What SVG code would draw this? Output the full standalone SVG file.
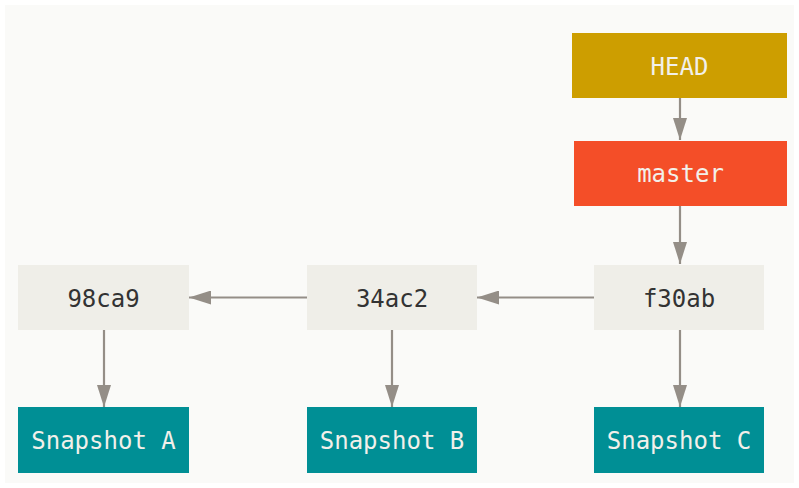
<svg xmlns="http://www.w3.org/2000/svg" width="799" height="488" viewBox="0 0 799 488">
<style>
.lbl{font-family:"DejaVu Sans Mono","Liberation Mono",monospace;font-size:24px;text-anchor:middle;dominant-baseline:central}
.light{fill:#f2f0ea}
.dark{fill:#333333}
.commit{fill:#efeee8}
.snap{fill:#008f95}
.conn{stroke:#948e87;stroke-width:2.2;fill:none;marker-end:url(#ah)}
</style>
<defs>
<marker id="ah" markerWidth="22" markerHeight="14" refX="22" refY="7" orient="auto" markerUnits="userSpaceOnUse">
<path d="M0,0 L22,7 L0,14 Z" fill="#948e87"/>
</marker>
</defs>
<rect x="0" y="0" width="799" height="488" fill="#ffffff"/>
<rect x="5" y="5" width="789" height="478" fill="#fafaf8"/>
<g id="connectors">
<line class="conn" x1="680" y1="98" x2="680" y2="140"/>
<line class="conn" x1="680" y1="206" x2="680" y2="264"/>
<line class="conn" x1="680" y1="330" x2="680" y2="407"/>
<line class="conn" x1="594" y1="297.5" x2="477" y2="297.5"/>
<line class="conn" x1="307" y1="297.5" x2="189" y2="297.5"/>
<line class="conn" x1="392" y1="330" x2="392" y2="407"/>
<line class="conn" x1="104" y1="330" x2="104" y2="407"/>
</g>
<g id="head">
<rect x="572" y="33" width="215" height="65" fill="#cd9e00"/>
<text class="lbl light" x="679.5" y="67">HEAD</text>
</g>
<g id="master">
<rect x="574" y="141" width="213" height="65" fill="#f44e28"/>
<text class="lbl light" x="680.5" y="174">master</text>
</g>
<g id="c98ca9">
<rect class="commit" x="18" y="265" width="171" height="65"/>
<text class="lbl dark" x="103.5" y="298.5">98ca9</text>
</g>
<g id="c34ac2">
<rect class="commit" x="307" y="265" width="170" height="65"/>
<text class="lbl dark" x="392" y="298.5">34ac2</text>
</g>
<g id="cf30ab">
<rect class="commit" x="594" y="265" width="170" height="65"/>
<text class="lbl dark" x="679" y="298.5">f30ab</text>
</g>
<g id="snapA">
<rect class="snap" x="18" y="407" width="171" height="66"/>
<text class="lbl light" x="103.5" y="441">Snapshot A</text>
</g>
<g id="snapB">
<rect class="snap" x="307" y="407" width="170" height="66"/>
<text class="lbl light" x="392" y="441">Snapshot B</text>
</g>
<g id="snapC">
<rect class="snap" x="594" y="407" width="170" height="66"/>
<text class="lbl light" x="679" y="441">Snapshot C</text>
</g>
</svg>
